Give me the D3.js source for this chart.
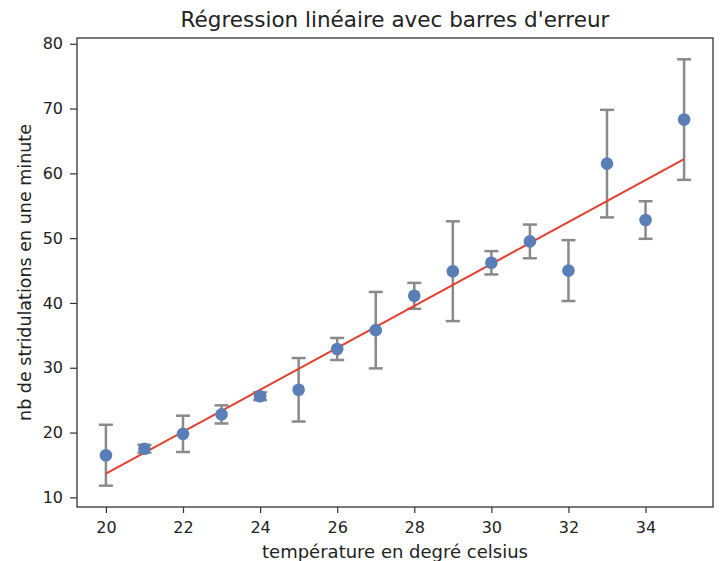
<!DOCTYPE html>
<html>
<head>
<meta charset="utf-8">
<script src="https://cdn.jsdelivr.net/npm/d3@7"></script>
<style>
  body { margin: 0; background: #fff; }
  text { font-family: "DejaVu Sans", sans-serif; fill: #222; }
</style>
</head>
<body>
<div id="chart"></div>
<script>
const temperatures = [20, 21, 22, 23, 24, 25, 26, 27, 28, 29, 30, 31, 32, 33, 34, 35];
const stridulations = [16.5, 17.5, 19.8, 22.8, 25.6, 26.6, 32.9, 35.8, 41.1, 44.9, 46.2, 49.5, 45.0, 61.5, 52.8, 68.3];
const errors = [4.7, 0.6, 2.8, 1.4, 0.6, 4.9, 1.7, 5.9, 2.0, 7.7, 1.8, 2.6, 4.7, 8.3, 2.9, 9.3];
const xTicks = [20, 22, 24, 26, 28, 30, 32, 34];
const yTicks = [10, 20, 30, 40, 50, 60, 70, 80];

const points = temperatures.map((t, i) => ({ x: t, y: stridulations[i], err: errors[i] }));

const width = 720;
const height = 561;
const margin = { top: 38, right: 7, bottom: 54, left: 77 };

const svg = d3.select("#chart")
  .append("svg")
  .attr("width", width)
  .attr("height", height);

// matplotlib-like 5% margins
const xPad = (d3.max(temperatures) - d3.min(temperatures)) * 0.05;
const yMin = d3.min(points, (d) => d.y - d.err);
const yMax = d3.max(points, (d) => d.y + d.err);
const yPad = (yMax - yMin) * 0.05;

const x = d3.scaleLinear()
  .domain([d3.min(temperatures) - xPad, d3.max(temperatures) + xPad])
  .range([margin.left, width - margin.right]);

const y = d3.scaleLinear()
  .domain([yMin - yPad, yMax + yPad])
  .range([height - margin.bottom, margin.top]);

// least squares fit
const mx = d3.mean(temperatures);
const my = d3.mean(stridulations);
const slope = d3.sum(points, (d) => (d.x - mx) * (d.y - my)) /
  d3.sum(points, (d) => (d.x - mx) ** 2);
const intercept = my - slope * mx;

// axes
const xAxis = svg.append("g")
  .attr("transform", `translate(0,${height - margin.bottom})`)
  .call(d3.axisBottom(x).tickValues(xTicks).tickSize(6).tickPadding(9));

const yAxis = svg.append("g")
  .attr("transform", `translate(${margin.left},0)`)
  .call(d3.axisLeft(y).tickValues(yTicks).tickSize(7).tickPadding(7));

[xAxis, yAxis].forEach((g) => {
  g.select(".domain").remove();
  g.selectAll(".tick line").attr("stroke", "#333").attr("stroke-width", 1.2);
  g.selectAll(".tick text")
    .style("font-family", "DejaVu Sans, sans-serif")
    .style("font-size", "16px")
    .attr("fill", "#222");
});

// frame
svg.append("rect")
  .attr("x", margin.left)
  .attr("y", margin.top)
  .attr("width", width - margin.left - margin.right)
  .attr("height", height - margin.top - margin.bottom)
  .attr("fill", "none")
  .attr("stroke", "#333")
  .attr("stroke-width", 1.3);

// error bars
const bars = svg.append("g")
  .selectAll("g")
  .data(points)
  .join("g")
  .attr("stroke", "#8a8a8a")
  .attr("stroke-width", 2.5);

bars.append("line")
  .attr("x1", (d) => x(d.x))
  .attr("x2", (d) => x(d.x))
  .attr("y1", (d) => y(d.y - d.err))
  .attr("y2", (d) => y(d.y + d.err));

bars.append("line")
  .attr("x1", (d) => x(d.x) - 7)
  .attr("x2", (d) => x(d.x) + 7)
  .attr("y1", (d) => y(d.y + d.err))
  .attr("y2", (d) => y(d.y + d.err));

bars.append("line")
  .attr("x1", (d) => x(d.x) - 7)
  .attr("x2", (d) => x(d.x) + 7)
  .attr("y1", (d) => y(d.y - d.err))
  .attr("y2", (d) => y(d.y - d.err));

// regression line
const x0 = d3.min(temperatures);
const x1 = d3.max(temperatures);
svg.append("line")
  .attr("x1", x(x0))
  .attr("y1", y(intercept + slope * x0))
  .attr("x2", x(x1))
  .attr("y2", y(intercept + slope * x1))
  .attr("stroke", "#e3412f")
  .attr("stroke-width", 2);

// points
svg.append("g")
  .selectAll("circle")
  .data(points)
  .join("circle")
  .attr("cx", (d) => x(d.x))
  .attr("cy", (d) => y(d.y))
  .attr("r", 6.3)
  .attr("fill", "#5a7fb6");

// labels
svg.append("text")
  .text("Régression linéaire avec barres d'erreur")
  .attr("x", (margin.left + width - margin.right) / 2)
  .attr("y", 27)
  .attr("text-anchor", "middle")
  .style("font-size", "21.5px");

svg.append("text")
  .text("température en degré celsius")
  .attr("x", (margin.left + width - margin.right) / 2)
  .attr("y", 558)
  .attr("text-anchor", "middle")
  .style("font-size", "18px");

svg.append("text")
  .text("nb de stridulations en une minute")
  .attr("transform", `translate(31,${(margin.top + height - margin.bottom) / 2}) rotate(-90)`)
  .attr("text-anchor", "middle")
  .style("font-size", "17.5px");
</script>
</body>
</html>
